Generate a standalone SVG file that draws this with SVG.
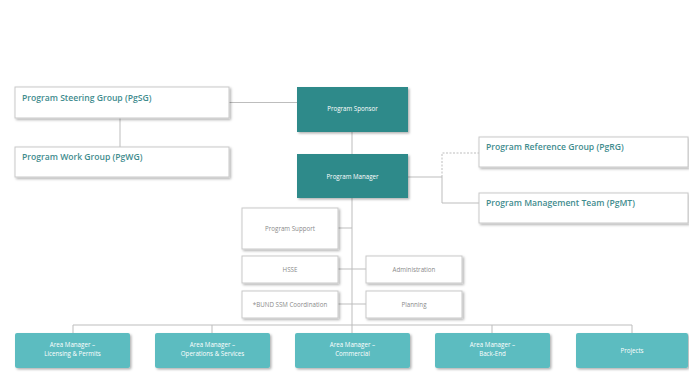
<svg xmlns="http://www.w3.org/2000/svg" width="689" height="373" viewBox="0 0 689 373">
<defs>
<filter id="sh" x="-10%" y="-20%" width="130%" height="160%">
<feDropShadow dx="1.5" dy="1.5" stdDeviation="1.2" flood-color="#000" flood-opacity="0.3"/>
</filter>
<style>
.wb{fill:#fff;stroke:#c9c9c9;stroke-width:1;filter:url(#sh)}
.dk{fill:#2f8a8a;filter:url(#sh)}
.lt{fill:#5cbcc0;filter:url(#sh)}
.hd{font-family:"Open Sans",sans-serif;font-weight:600;font-size:8.6px;fill:#3f8c8e}
.sm{font-family:"Open Sans",sans-serif;font-size:6.2px;fill:#8a8a8a;text-anchor:middle}
.sw{font-family:"Open Sans",sans-serif;font-size:6.2px;fill:#fff;text-anchor:middle}
.ln{stroke:#bdbdbd;stroke-width:1;fill:none}
</style>
</defs>
<rect width="689" height="373" fill="#fff"/>
<g id="connectors">
<path class="ln" d="M229 102.5H297"/>
<path class="ln" d="M120 118V147"/>
<path class="ln" d="M352 132V154"/>
<path class="ln" d="M352 198V325"/>
<path class="ln" d="M408 177H442V203H479"/>
<path class="ln" d="M442 177V153H479" stroke-dasharray="2,1.5"/>
<path class="ln" d="M338 228H352"/>
<path class="ln" d="M338 269H366"/>
<path class="ln" d="M338 304H366"/>
<path class="ln" d="M73 333V325H632V333M212 325V333M352 325V333M492 325V333"/>
</g>
<g id="psg"><rect class="wb" x="15" y="87" width="214" height="31"/><text class="hd" x="22" y="101">Program Steering Group (PgSG)</text></g>
<g id="pwg"><rect class="wb" x="15" y="147" width="214" height="30"/><text class="hd" x="22" y="160">Program Work Group (PgWG)</text></g>
<g id="sponsor"><rect class="dk" x="297" y="87" width="111" height="45"/><text class="sw" x="352.5" y="111">Program Sponsor</text></g>
<g id="manager"><rect class="dk" x="297" y="154" width="111" height="44"/><text class="sw" x="352.5" y="179">Program Manager</text></g>
<g id="prg"><rect class="wb" x="479" y="137" width="209" height="30"/><text class="hd" x="486" y="150">Program Reference Group (PgRG)</text></g>
<g id="pmt"><rect class="wb" x="479" y="193" width="209" height="30"/><text class="hd" x="486" y="206">Program Management Team (PgMT)</text></g>
<g id="support"><rect class="wb" x="242" y="208" width="96" height="41"/><text class="sm" x="290" y="230.5">Program Support</text></g>
<g id="hsse"><rect class="wb" x="242" y="256" width="96" height="27"/><text class="sm" x="290" y="271.5">HSSE</text></g>
<g id="admin"><rect class="wb" x="366" y="256" width="96" height="27"/><text class="sm" x="414" y="271.5">Administration</text></g>
<g id="bund"><rect class="wb" x="242" y="291" width="96" height="27"/><text class="sm" x="290" y="306.5">*BUND SSM Coordination</text></g>
<g id="planning"><rect class="wb" x="366" y="291" width="96" height="27"/><text class="sm" x="414" y="306.5">Planning</text></g>
<g id="am1"><rect class="lt" x="15" y="333" width="115" height="35" rx="2"/><text class="sw" x="72.5" y="347">Area Manager –</text><text class="sw" x="72.5" y="356">Licensing &amp; Permits</text></g>
<g id="am2"><rect class="lt" x="155" y="333" width="115" height="35" rx="2"/><text class="sw" x="212.5" y="347">Area Manager –</text><text class="sw" x="212.5" y="356">Operations &amp; Services</text></g>
<g id="am3"><rect class="lt" x="295" y="333" width="115" height="35" rx="2"/><text class="sw" x="352.5" y="347">Area Manager –</text><text class="sw" x="352.5" y="356">Commercial</text></g>
<g id="am4"><rect class="lt" x="435" y="333" width="115" height="35" rx="2"/><text class="sw" x="492.5" y="347">Area Manager –</text><text class="sw" x="492.5" y="356">Back-End</text></g>
<g id="projects"><rect class="lt" x="576" y="333" width="112" height="35" rx="2"/><text class="sw" x="632" y="352.5">Projects</text></g>
</svg>
